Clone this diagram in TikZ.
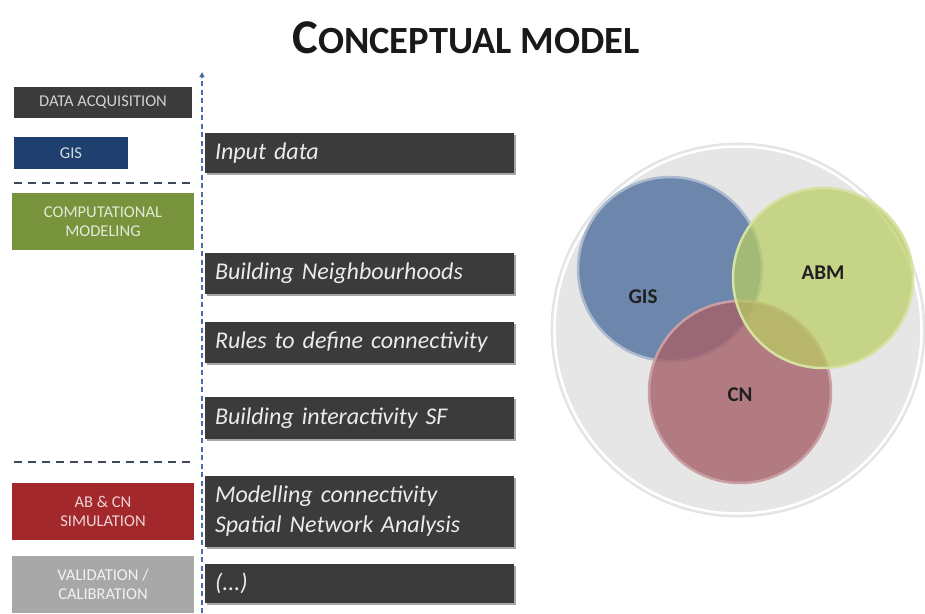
\documentclass[tikz,border=0pt]{standalone}
\usepackage{fontspec}
\setmainfont{Carlito}
\newfontfamily\boxfont[WordSpace=0.7]{Carlito}
\usetikzlibrary{shadows,arrows.meta}
\definecolor{darkbox}{HTML}{3B3B3B}
\definecolor{gisblue}{HTML}{1F406E}
\definecolor{compgreen}{HTML}{77933C}
\definecolor{simred}{HTML}{A3282B}
\definecolor{valgray}{HTML}{A8A8A8}
\definecolor{vline}{HTML}{4A6DA8}
\definecolor{hline}{HTML}{3E4A5A}
\definecolor{vgis}{HTML}{6682A8}
\definecolor{vabm}{HTML}{B9CE62}
\definecolor{vcn}{HTML}{A55F68}
\definecolor{outer}{HTML}{E6E6E6}
\tikzset{
  lbox/.style={rectangle, inner sep=0pt, align=center, font=\fontsize{16.5}{19}\selectfont},
  rbox/.style={rectangle, fill=darkbox, minimum width=309pt, inner xsep=10pt, inner ysep=0pt,
     text width=289pt, align=left, text=white!92!black,
     font=\boxfont\fontsize{24}{30}\selectfont\itshape,
     drop shadow={shadow xshift=2pt, shadow yshift=-2pt, fill=black, opacity=0.35}},
  sepline/.style={draw=hline, line width=1.6pt, dash pattern=on 8pt off 6pt},
  axisline/.style={draw=vline, line width=1.2pt, dash pattern=on 5pt off 3.5pt},
  vcirc/.style={circle, inner sep=0pt},
  vlabel/.style={font=\fontsize{21}{24}\selectfont\bfseries, text=black!88}
}
\begin{document}
\begin{tikzpicture}[x=1pt,y=-1pt]
\useasboundingbox (0,0) rectangle (925,613);
\fill[white] (0,0) rectangle (925,613);
% title
\node[font=\bfseries, text=black!90] (title) at (466,38)
  {\fontsize{48.5}{54}\selectfont C\fontsize{38.5}{44}\selectfont ONCEPTUAL MODEL};
% left boxes
\node[lbox, fill=darkbox, minimum width=178pt, minimum height=31pt, text=white!82!black] (da) at (103,102.5) {DATA ACQUISITION};
\node[lbox, fill=gisblue, minimum width=114pt, minimum height=32pt, text=white!80!gisblue] (gis) at (71,153) {GIS};
\node[lbox, fill=compgreen, minimum width=182pt, minimum height=57pt, text=white!80!compgreen] (cm) at (103,221.5) {COMPUTATIONAL\\MODELING};
\node[lbox, fill=simred, minimum width=182pt, minimum height=57pt, text=white!80!simred] (sim) at (103,511.5) {AB \& CN\\SIMULATION};
\node[lbox, fill=valgray, minimum width=182pt, minimum height=57pt, text=white!85!valgray] (val) at (103,584) {VALIDATION /\\CALIBRATION};
% separators
\coordinate (s1a) at (14,183); \coordinate (s1b) at (195,183);
\coordinate (s2a) at (14,462); \coordinate (s2b) at (195,462);
\draw[sepline] (s1a) -- (s1b);
\draw[sepline] (s2a) -- (s2b);
% axis
\coordinate (ab) at (202,613); \coordinate (at) at (202,72);
\draw[axisline, -{Triangle[width=5pt,length=5pt]}] (ab) -- (at);
% right boxes
\node[rbox, minimum height=40pt] (in) at (359.5,153) {Input data};
\node[rbox, minimum height=41pt] (bn) at (359.5,273.5) {Building Neighbourhoods};
\node[rbox, minimum height=41pt] (rc) at (359.5,342.5) {Rules to define connectivity};
\node[rbox, minimum height=42pt] (bi) at (359.5,418) {Building interactivity SF};
\node[rbox, minimum height=71pt] (mc) at (359.5,511.5) {Modelling connectivity\\Spatial Network Analysis};
\node[rbox, minimum height=39pt] (etc) at (359.5,583.5) {(...)};
% venn
\node[vcirc, minimum size=374pt, fill=outer, draw=black!12, line width=0.6pt] (out) at (738,330) {};
\draw[white, line width=2.5pt] (738,330) circle[radius=183.5];
\node[vcirc, minimum size=184pt, fill=vgis, fill opacity=0.95, draw=vgis!55!white, line width=2.5pt] (cgis) at (670,269) {};
\node[vcirc, minimum size=182pt, fill=vcn, fill opacity=0.8, draw=vcn!60!white, line width=2.5pt] (ccn) at (740,392) {};
\node[vcirc, minimum size=180pt, fill=vabm, fill opacity=0.72, draw=vabm!60!white, line width=2.5pt] (cabm) at (823,278) {};
\node[vlabel] (lgis) at (643,297) {GIS};
\node[vlabel] (labm) at (823,273) {ABM};
\node[vlabel] (lcn) at (740,395) {CN};
\end{tikzpicture}
\end{document}
